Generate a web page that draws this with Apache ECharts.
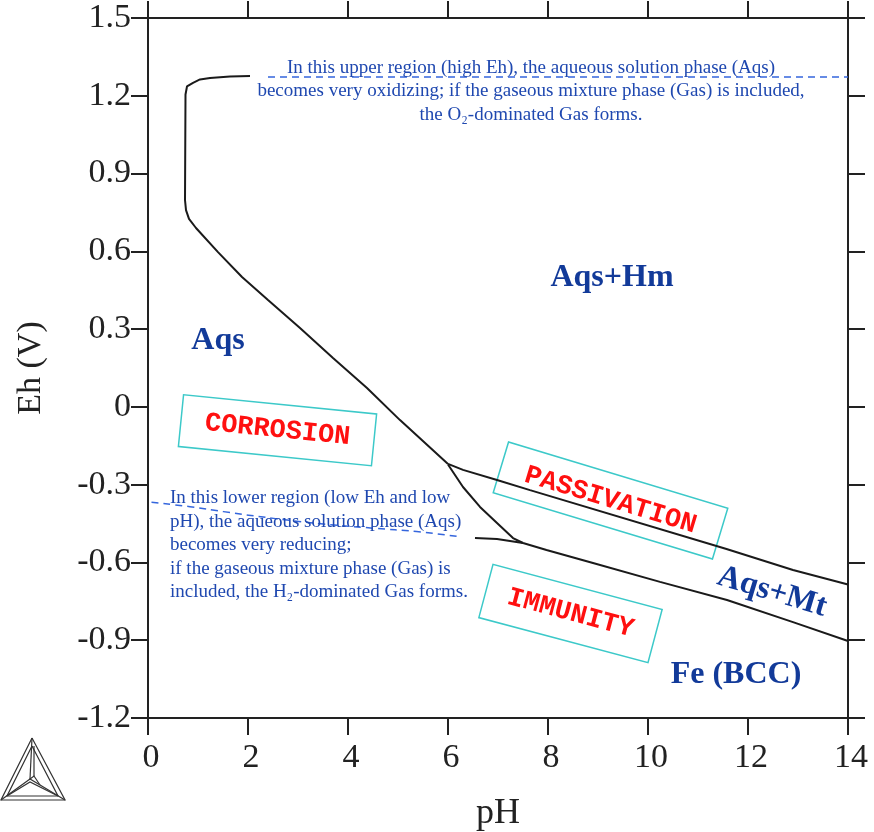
<!DOCTYPE html>
<html>
<head>
<meta charset="utf-8">
<script src="https://cdn.jsdelivr.net/npm/echarts@6/dist/echarts.min.js"></script>
<style>
html, body { margin: 0; padding: 0; background: #ffffff; }
#chart { width: 874px; height: 832px; }
</style>
</head>
<body>
<div id="chart"></div>
<script>
// Eh–pH (Pourbaix) diagram of the Fe–H2O system

// Tick labels
const xTickLabels = ['0', '2', '4', '6', '8', '10', '12', '14'];
const yTickLabels = ['-1.2', '-0.9', '-0.6', '-0.3', '0', '0.3', '0.6', '0.9', '1.2', '1.5'];

// Phase boundaries as [pH, Eh (V)]
const aqsHmBoundary = [
  [2.04, 1.276], [1.64, 1.274], [1.24, 1.269], [1.04, 1.263], [0.90, 1.250],
  [0.78, 1.236], [0.75, 1.205], [0.74, 0.798], [0.76, 0.759], [0.82, 0.725],
  [0.96, 0.690], [1.40, 0.597], [1.88, 0.501], [2.40, 0.412], [3.04, 0.304],
  [3.70, 0.189], [4.38, 0.073], [5.04, -0.051], [6.00, -0.220]
];
const hmMtBoundary = [
  [6.00, -0.220], [6.30, -0.243], [6.98, -0.282], [7.64, -0.321],
  [11.57, -0.548], [12.90, -0.629], [14.00, -0.685]
];
const aqsMtBoundary = [
  [6.00, -0.222], [6.30, -0.309], [6.64, -0.386], [6.98, -0.448],
  [7.30, -0.506], [7.50, -0.525]
];
const aqsFeBoundary = [[6.54, -0.506], [6.98, -0.510], [7.50, -0.525]];
const mtFeBoundary = [
  [7.50, -0.525], [7.97, -0.552], [8.90, -0.602], [10.24, -0.675],
  [11.58, -0.745], [12.90, -0.830], [14.00, -0.903]
];

// Stability limits of water (gas phase excluded)
const o2Limit = [[2.40, 1.272], [14.00, 1.272]];
const h2Limit = [
  [0.07, -0.368], [0.84, -0.385], [1.51, -0.404], [2.51, -0.430],
  [3.51, -0.452], [4.51, -0.468], [5.37, -0.481], [6.24, -0.501]
];

// Region names and notes
const phaseNames = ['Aqs', 'Aqs+Hm', 'Aqs+Mt', 'Fe (BCC)'];
const zoneNames = ['CORROSION', 'PASSIVATION', 'IMMUNITY'];
const upperNote = [
  'In this upper region (high Eh), the aqueous solution phase (Aqs)',
  'becomes very oxidizing; if the gaseous mixture phase (Gas) is included,',
  'the O\u2082-dominated Gas forms.'
];
const lowerNote = [
  'In this lower region (low Eh and low',
  'pH), the aqueous solution phase (Aqs)',
  'becomes very reducing;',
  'if the gaseous mixture phase (Gas) is',
  'included, the H\u2082-dominated Gas forms.'
];

// ---- layout ----
const xMin = +xTickLabels[0], xMax = +xTickLabels[xTickLabels.length - 1];
const xStep = +xTickLabels[1] - xMin;
const yMin = +yTickLabels[0], yMax = +yTickLabels[yTickLabels.length - 1];
const yStep = +(+yTickLabels[1] - yMin).toFixed(6);

const SERIF = '"Liberation Serif", "Times New Roman", serif';
const MONO = '"Liberation Mono", "Courier New", monospace';
const INK = '#222222';
const NAVY = '#123a99';
const NOTE = '#1f48b0';

const chart = echarts.init(document.getElementById('chart'), null, { renderer: 'canvas' });

function xLabel(v) { return xTickLabels[Math.round((v - xMin) / xStep)] || ''; }
function yLabel(v) { return yTickLabels[Math.round((v - yMin) / yStep)] || ''; }

const axisLine = { show: true, onZero: false, lineStyle: { color: INK, width: 2 } };
const tick = { show: true, inside: false, length: 17, lineStyle: { color: INK, width: 2 } };

function boundary(data) {
  return {
    type: 'line', data: data, showSymbol: false, symbol: 'none', silent: true,
    lineStyle: { color: '#1a1a1a', width: 2 }, z: 3
  };
}
function waterLimit(data, smooth) {
  return {
    type: 'line', data: data, showSymbol: false, symbol: 'none', silent: true, smooth: smooth,
    lineStyle: { color: '#3566dd', width: 1.5, type: [7, 5] }, z: 2
  };
}

chart.setOption({
  animation: false,
  backgroundColor: '#ffffff',
  grid: { left: 148, right: 26, top: 18, bottom: 114, containLabel: false, outerBoundsMode: 'none' },
  xAxis: [
    {
      type: 'value', position: 'bottom', min: xMin, max: xMax, interval: xStep,
      axisLine: axisLine, axisTick: tick, splitLine: { show: false },
      axisLabel: { formatter: xLabel, color: INK, fontFamily: SERIF, fontSize: 34, margin: 23,
        padding: [0, 0, 0, 6] },
      name: 'pH', nameLocation: 'middle', nameGap: 78,
      nameTextStyle: { color: INK, fontFamily: SERIF, fontSize: 36 }
    },
    {
      type: 'value', position: 'top', min: xMin, max: xMax, interval: xStep,
      axisLine: axisLine, axisTick: tick, splitLine: { show: false },
      axisLabel: { show: false }
    }
  ],
  yAxis: [
    {
      type: 'value', position: 'left', min: yMin, max: yMax, interval: yStep,
      axisLine: axisLine, axisTick: tick, splitLine: { show: false },
      axisLabel: { formatter: yLabel, color: INK, fontFamily: SERIF, fontSize: 34, margin: 17 },
      name: 'Eh (V)', nameLocation: 'middle', nameGap: 100,
      nameTextStyle: { color: INK, fontFamily: SERIF, fontSize: 34 }
    },
    {
      type: 'value', position: 'right', min: yMin, max: yMax, interval: yStep,
      axisLine: axisLine, axisTick: tick, splitLine: { show: false },
      axisLabel: { show: false }
    }
  ],
  series: [
    boundary(aqsHmBoundary),
    boundary(hmMtBoundary),
    boundary(aqsMtBoundary),
    boundary(aqsFeBoundary),
    boundary(mtFeBoundary),
    waterLimit(o2Limit, false),
    waterLimit(h2Limit, true)
  ]
});

// ---- annotations placed in data coordinates ----
const at = (pH, eh) => chart.convertToPixel({ gridIndex: 0 }, [pH, eh]);
const rad = (deg) => deg * Math.PI / 180;

function phaseText(name, pH, eh, tilt) {
  const p = at(pH, eh);
  return {
    type: 'text', x: p[0], y: p[1], rotation: rad(tilt || 0), z: 10, silent: true,
    style: {
      text: name, align: 'center', verticalAlign: 'middle', fill: NAVY,
      fontFamily: SERIF, fontWeight: 'bold', fontSize: 32
    }
  };
}
function zoneBox(name, pH, eh, w, h, tilt) {
  const p = at(pH, eh);
  return {
    type: 'group', x: p[0], y: p[1], rotation: rad(tilt), z: 9, silent: true,
    children: [
      { type: 'rect', shape: { x: -w / 2, y: -h / 2, width: w, height: h },
        style: { fill: 'none', stroke: '#3cc9c9', lineWidth: 1.5 } },
      { type: 'text', x: 0, y: 0,
        style: { text: name, align: 'center', verticalAlign: 'middle', fill: '#ff1010',
          fontFamily: MONO, fontWeight: 'bold', fontSize: 27 } }
    ]
  };
}
function note(lines, pH, eh, align) {
  const p = at(pH, eh);
  return {
    type: 'text', x: p[0], y: p[1], z: 8, silent: true,
    style: {
      text: lines.join('\n'), align: align, verticalAlign: 'middle', fill: NOTE,
      fontFamily: SERIF, fontSize: 19, lineHeight: 23.5
    }
  };
}

// Thermo-Calc style triangle mark in the lower-left corner
const markStroke = { stroke: '#333333', lineWidth: 1.2, fill: 'none' };
const logo = {
  type: 'group', x: 0, y: 0, silent: true,
  children: [
    { type: 'polyline', shape: { points: [[32, 738], [1, 800], [65, 800], [32, 738]] }, style: markStroke },
    { type: 'polyline', shape: { points: [[32, 746], [7, 796], [58, 796], [32, 746]] }, style: markStroke },
    { type: 'polyline', shape: { points: [[32, 738], [30, 779]] }, style: markStroke },
    { type: 'polyline', shape: { points: [[34, 746], [34, 776]] }, style: markStroke },
    { type: 'polyline', shape: { points: [[1, 800], [30, 779], [65, 800]] }, style: markStroke },
    { type: 'polyline', shape: { points: [[7, 796], [30, 782], [58, 796]] }, style: markStroke },
    { type: 'polyline', shape: { points: [[30, 779], [34, 776], [40, 785]] }, style: markStroke }
  ]
};

chart.setOption({
  graphic: [
    phaseText(phaseNames[0], 1.40, 0.254),
    phaseText(phaseNames[1], 9.28, 0.497),
    phaseText(phaseNames[2], 12.48, -0.714, -16.8),
    phaseText(phaseNames[3], 11.76, -1.034),
    zoneBox(zoneNames[0], 2.59, -0.090, 194, 52, -5.7),
    zoneBox(zoneNames[1], 9.25, -0.361, 229, 53, -16.8),
    zoneBox(zoneNames[2], 8.45, -0.797, 175, 55, -14.9),
    note(upperNote, 7.66, 1.218, 'center'),
    note(lowerNote, 0.44, -0.533, 'left'),
    logo
  ]
});
</script>
</body>
</html>
